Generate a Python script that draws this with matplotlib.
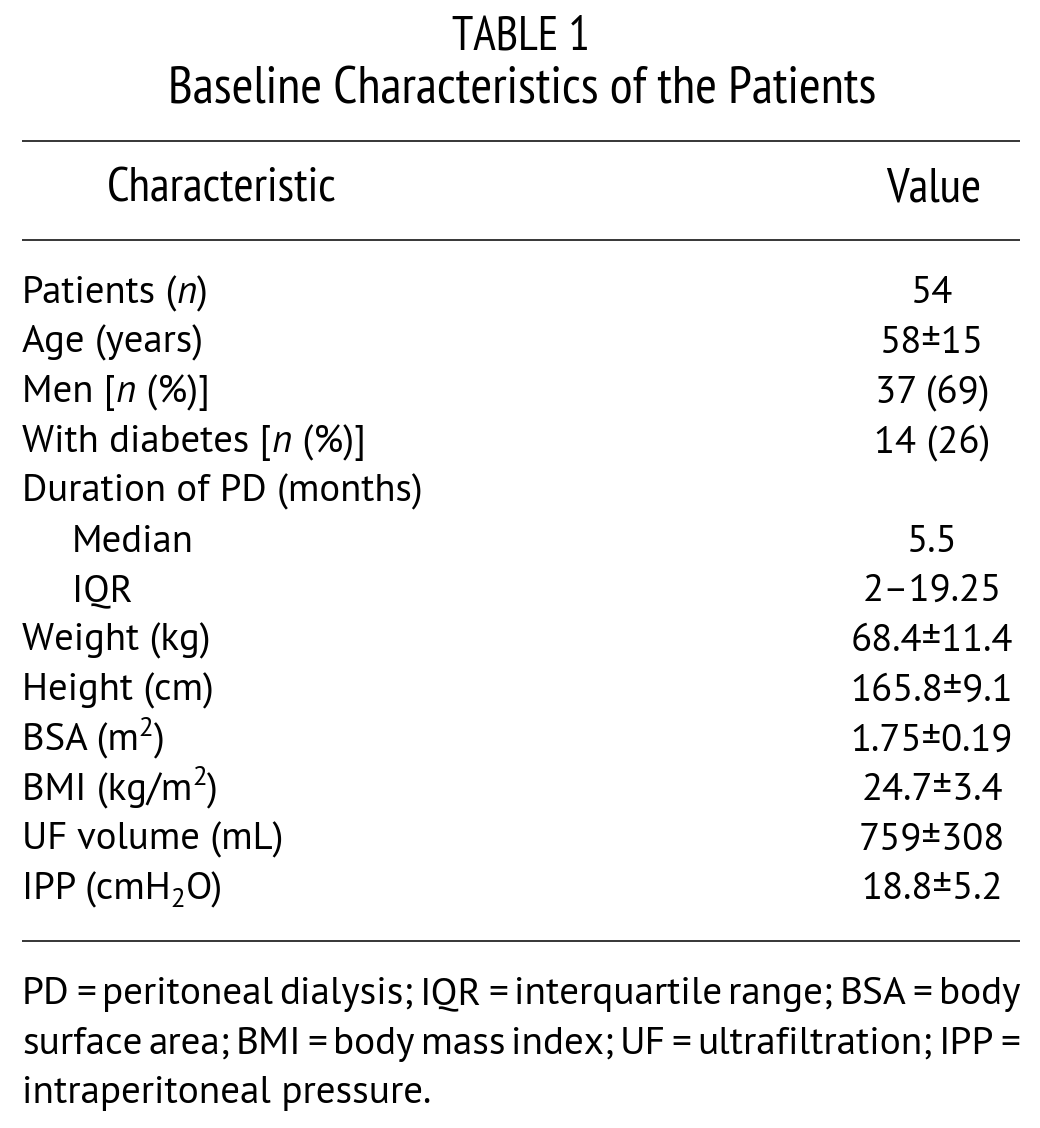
import re
import matplotlib
matplotlib.use("Agg")
import matplotlib.pyplot as plt
from matplotlib import font_manager

# ---------------- data ----------------
title_lines = ["TABLE 1", "Baseline Characteristics of the Patients"]
header = ["Characteristic", "Value"]
# markup: *x* italic, ^x superscript, _x subscript
row_labels = [
    "Patients (*n*)",
    "Age (years)",
    "Men [*n* (%)]",
    "With diabetes [*n* (%)]",
    "Duration of PD (months)",
    "Median",
    "IQR",
    "Weight (kg)",
    "Height (cm)",
    "BSA (m^2)",
    "BMI (kg/m^2)",
    "UF volume (mL)",
    "IPP (cmH_2O)",
]
row_indent = [0, 0, 0, 0, 0, 1, 1, 0, 0, 0, 0, 0, 0]
row_values = ["54", "58±15", "37 (69)", "14 (26)", "", "5.5", "2–19.25",
              "68.4±11.4", "165.8±9.1", "1.75±0.19", "24.7±3.4", "759±308", "18.8±5.2"]
footnote_lines = [
    "PD = peritoneal dialysis; IQR = interquartile range; BSA = body",
    "surface area; BMI = body mass index; UF = ultrafiltration; IPP =",
    "intraperitoneal pressure.",
]

# ---------------- fonts ----------------
names = {f.name for f in font_manager.fontManager.ttflist}
def pick(*cands):
    for c in cands:
        if c in names:
            return c
    return "DejaVu Sans"
BODY = pick("PT Sans", "Fira Sans", "Liberation Sans", "DejaVu Sans")
NARROW = pick("PT Sans Narrow", "Fira Sans Condensed", "Roboto Condensed", "Liberation Sans")

fig = plt.figure(figsize=(10.4, 11.28), dpi=100)
ax = fig.add_axes([0, 0, 1, 1])
ax.set_xlim(0, 1040)
ax.set_ylim(1128, 0)
ax.axis("off")
R = fig.canvas.get_renderer()
PX = 100 / 72.0

def tw(t):
    return t.get_window_extent(R).width

def fit_size(text, family, target_w, base=20):
    t = ax.text(0, 0, text, fontsize=base, family=family)
    w = tw(t)
    t.remove()
    return base * target_w / w

def parse(s):
    parts = []
    for m in re.finditer(r"\*([^*]+)\*|\^(.)|_(.)|([^*^_]+)", s):
        if m.group(1):
            parts.append((m.group(1), "i"))
        elif m.group(2):
            parts.append((m.group(2), "sup"))
        elif m.group(3):
            parts.append((m.group(3), "sub"))
        else:
            parts.append((m.group(4), ""))
    return parts

def draw_runs(x, y, s, size, family, ha="left"):
    objs = []
    for txt, st in parse(s):
        fs = size
        dy = 0
        kw = {}
        if st == "i":
            kw["style"] = "italic"
        elif st == "sup":
            fs = size * 0.7
            dy = -size * PX * 0.38
        elif st == "sub":
            fs = size * 0.7
            dy = size * PX * 0.2
        t = ax.text(0, y + dy, txt, fontsize=fs, family=family, va="baseline",
                    ha="left", color="black", **kw)
        objs.append(t)
    widths = [tw(t) for t in objs]
    total = sum(widths)
    if ha == "center":
        cx = x - total / 2
    elif ha == "right":
        cx = x - total
    else:
        cx = x
    for t, w in zip(objs, widths):
        t.set_x(cx)
        cx += w

LEFT, RIGHT = 22, 1020

# ---------------- title ----------------
s_t1 = fit_size(title_lines[0], NARROW, 138)
s_t2 = fit_size(title_lines[1], NARROW, 708)
ax.text(521, 50, title_lines[0], fontsize=s_t1, family=NARROW, ha="center", va="baseline")
ax.text(522, 103, title_lines[1], fontsize=s_t2, family=NARROW, ha="center", va="baseline")

# ---------------- rules ----------------
for yy in (141, 240, 941):
    ax.plot([LEFT, RIGHT], [yy, yy], color="black", lw=1.1, solid_capstyle="butt")

# ---------------- header ----------------
s_body = fit_size("Duration of PD (months)", BODY, 400)
s_head = fit_size(header[0], NARROW, 230)
ax.text(222, 202, header[0], fontsize=s_head, family=NARROW, ha="center", va="baseline")
ax.text(934, 202, header[1], fontsize=s_head, family=NARROW, ha="center", va="baseline")

# ---------------- rows ----------------
VAL_X = 932
for i, (lab, ind, val) in enumerate(zip(row_labels, row_indent, row_values)):
    y = 303 + 49.7 * i
    draw_runs(LEFT + 50 * ind, y, lab, s_body, BODY)
    if val:
        ax.text(VAL_X, y, val, fontsize=s_body, family=BODY, ha="center", va="baseline")

# ---------------- footnote ----------------
s_foot = fit_size(footnote_lines[2], BODY, 410)
foot_y = [1004, 1054, 1103]
MIN_GAP = 5
for k, (line, yy) in enumerate(zip(footnote_lines, foot_y)):
    if k < 2:
        words = line.split(" ")
        fs = s_foot
        objs = [ax.text(0, yy, w, fontsize=fs, family=BODY, va="baseline", ha="left")
                for w in words]
        ws = [tw(o) for o in objs]
        avail = RIGHT - LEFT - MIN_GAP * (len(words) - 1)
        if sum(ws) > avail:
            scale = avail / sum(ws)
            for o in objs:
                o.set_fontsize(fs * scale)
            ws = [tw(o) for o in objs]
        gap = (RIGHT - LEFT - sum(ws)) / (len(words) - 1)
        cx = LEFT
        for o, w in zip(objs, ws):
            o.set_x(cx)
            cx += w + gap
    else:
        ax.text(LEFT, yy, line, fontsize=s_foot, family=BODY, va="baseline", ha="left")

fig.savefig("out.png", dpi=100, facecolor="white")
